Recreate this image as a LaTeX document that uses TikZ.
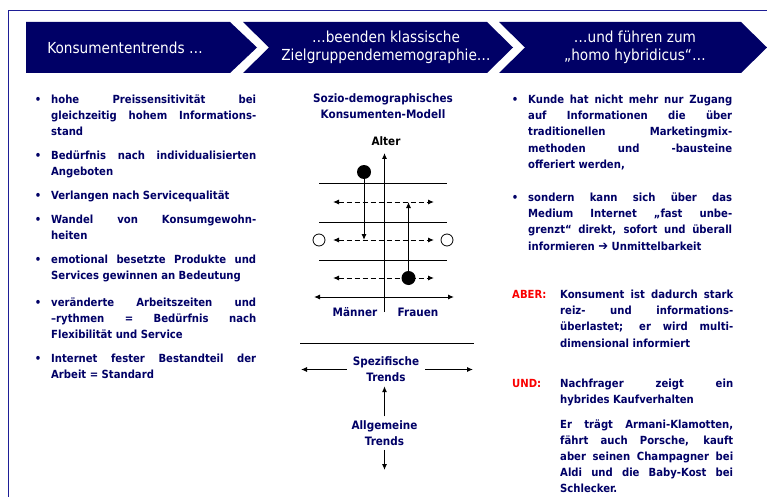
\documentclass[tikz,border=0pt]{standalone}
\usepackage{fontspec}
\setmainfont{DejaVu Sans Condensed}
\usetikzlibrary{arrows.meta,positioning}

\definecolor{navy}{RGB}{0,0,102}
\definecolor{framecol}{RGB}{30,30,150}
\definecolor{alarm}{RGB}{250,0,0}
\newcommand{\bodyfont}{\fontsize{11.2}{16.2}\selectfont\bfseries}
\newcommand{\bul}{\llap{•\hspace{10pt}}}
\hbadness=10000

\begin{document}
\begin{tikzpicture}[
  x=1pt, y=-1pt,
  every node/.style={inner sep=0pt},
  chev/.style={fill=navy},
  chevtext/.style={text=white, align=center, font=\fontsize{15.2}{18}\selectfont},
  bullettext/.style={anchor=base west, text width=205pt, align=justify, text=navy, font=\bodyfont},
  midtext/.style={align=center, text=navy, font=\fontsize{11.6}{16}\selectfont\bfseries},
  redtag/.style={anchor=base west, text=alarm, font=\bodyfont},
  thinline/.style={line width=1pt},
  arr/.style={-{Latex[length=6pt,width=5pt]}, line width=1pt},
  dblarr/.style={{Latex[length=6pt,width=5pt]}-{Latex[length=6pt,width=5pt]}, line width=1pt},
  dasharr/.style={dblarr, dash pattern=on 5pt off 3pt},
  opencirc/.style={circle, draw, fill=white, line width=0.8pt, minimum size=12pt},
  fullcirc/.style={circle, fill=black, minimum size=14pt}
]
\useasboundingbox (0,0) rectangle (767,497);

% Frame
\draw[framecol, line width=1pt] (767,11) -- (8,11) -- (8,497);

% Chevrons
\fill[chev] (26,22) -- (230,22) -- (257,47.5) -- (230,73) -- (26,73) -- cycle;
\fill[chev] (243,22) -- (487,22) -- (513,47.5) -- (487,73) -- (243,73) -- (269,47.5) -- cycle;
\fill[chev] (499,22) -- (741,22) -- (767,47.5) -- (741,73) -- (499,73) -- (525,47.5) -- cycle;
\node[chevtext] (head1) at (125,47.5) {Konsumententrends …};
\node[chevtext] (head2) at (386,47) {…beenden klassische\\Zielgruppendememographie…};
\node[chevtext] (head3) at (635,47) {…und führen zum\\„homo hybridicus“…};

% Left column: trends
\node[bullettext] (l1) at (51,103.5) {\bul hohe Preissensitivität bei\linebreak gleichzeitig hohem Informations-\linebreak stand};
\node[bullettext] (l2) at (51,159.5) {\bul Bedürfnis nach individualisierten\linebreak Angeboten};
\node[bullettext] (l3) at (51,199.5) {\bul Verlangen nach Servicequalität};
\node[bullettext] (l4) at (51,223) {\bul Wandel von Konsumgewohn-\linebreak heiten};
\node[bullettext] (l5) at (51,263.5) {\bul emotional besetzte Produkte und\linebreak Services gewinnen an Bedeutung};
\node[bullettext] (l6) at (51,306) {\bul veränderte Arbeitszeiten und\linebreak –rythmen = Bedürfnis nach\linebreak Flexibilität und Service};
\node[bullettext] (l7) at (51,362.5) {\bul Internet fester Bestandteil der\linebreak Arbeit = Standard};

% Middle: model
\node[midtext] (modell) at (383,106) {Sozio-demographisches\\Konsumenten-Modell};
\node[midtext, anchor=base, text=black] (alter) at (386,145.5) {Alter};
\coordinate (ytop) at (384.5,153);
\coordinate (ybot) at (384.5,312);
\coordinate (xleft) at (314,297);
\coordinate (xright) at (454,297);
\foreach \y in {183,222,260}
  \draw[thinline] (319,\y) -- (447,\y);
\foreach \y in {202,240,278}
  \draw[dasharr] (333,\y) -- (434,\y);
\draw[arr] (ybot) -- (ytop);
\draw[dblarr] (xleft) -- (xright);
\node[opencirc] (oleft) at (319,240) {};
\node[opencirc] (oright) at (447,240) {};
\coordinate (ptopend) at (364,240);
\coordinate (pbotend) at (408.5,202);
\draw[arr] (364,172) -- (ptopend);
\draw[arr] (408.5,278) -- (pbotend);
\node[fullcirc] (ptop) at (364,172) {};
\node[fullcirc] (pbot) at (408.5,278) {};
\node[midtext, anchor=base] (maenner) at (355,316.5) {Männer};
\node[midtext, anchor=base] (frauen) at (418,316.5) {Frauen};

% Middle: trends
\draw[thinline] (300,343) -- (474,343);
\node[midtext, inner xsep=6pt, inner ysep=4pt] (spez) at (386,369.5) {Spezifische\\Trends};
\node[midtext, inner ysep=4pt] (allg) at (384.5,433) {Allgemeine\\Trends};
\coordinate (spezL) at (301,369.5);
\coordinate (spezR) at (473,369.5);
\coordinate (allgD) at (384.5,470);
\draw[arr] (spez.west) -- (spezL);
\draw[arr] (spez.east) -- (spezR);
\draw[arr] (allg.north) -- (allg.north |- spez.south);
\draw[arr] (allg.south) -- (allgD);

% Right column: homo hybridicus
\node[bullettext, text width=204pt] (r1) at (528,103.5) {\bul Kunde hat nicht mehr nur Zugang\linebreak auf Informationen die über\linebreak traditionellen Marketingmix-\linebreak methoden und -bausteine\linebreak offeriert werden,};
\node[bullettext, text width=204pt] (r2) at (528,201.5) {\bul sondern kann sich über das\linebreak Medium Internet „fast unbe-\linebreak grenzt“ direkt, sofort und überall\linebreak informieren {\fontsize{13}{16}\selectfont ➔} Unmittelbarkeit};
\node[redtag] (aber) at (512,298.5) {ABER:};
\node[bullettext, text width=173pt] (abertext) at (560,298.5) {Konsument ist dadurch stark\linebreak reiz- und informations-\linebreak überlastet; er wird multi-\linebreak dimensional informiert};
\node[redtag] (und) at (512,387.5) {UND:};
\node[bullettext, text width=173pt] (undtext) at (560,387.5) {Nachfrager zeigt ein\linebreak hybrides Kaufverhalten};
\node[bullettext, text width=173pt] (ertext) at (560,428) {Er trägt Armani-Klamotten,\linebreak fährt auch Porsche, kauft\linebreak aber seinen Champagner bei\linebreak Aldi und die Baby-Kost bei\linebreak Schlecker.};

\end{tikzpicture}
\end{document}
